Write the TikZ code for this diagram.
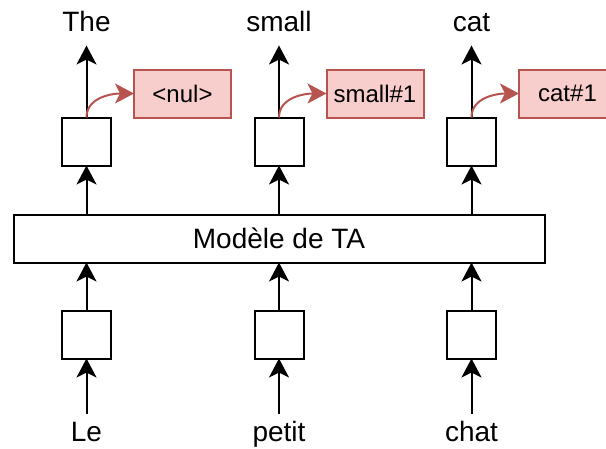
\documentclass[tikz,border=0pt]{standalone}
\usepackage{fontspec}
\setmainfont{Liberation Sans}
\usetikzlibrary{arrows.meta,positioning}
\definecolor{nulred}{HTML}{B85450}
\definecolor{nulfill}{HTML}{F8CECC}
\tikzstyle{cell}=[rectangle,draw=black,minimum width=49pt,minimum height=48pt,inner sep=0pt]
\tikzstyle{model}=[rectangle,draw=black,minimum width=531pt,minimum height=48pt,
font=\fontsize{28}{34}\selectfont]
\tikzstyle{word}=[inner xsep=0pt,inner ysep=8pt,text height=20pt,text depth=6pt,
font=\fontsize{28}{34}\selectfont]
\tikzstyle{hyp}=[rectangle,draw=nulred,fill=nulfill,minimum width=97pt,
minimum height=48pt,inner sep=0pt,font=\fontsize{24}{29}\selectfont]
\begin{document}
\begin{tikzpicture}[x=1pt,y=-1pt,node distance=192.5pt,line width=2pt,
    every node/.style={outer sep=0pt},
    >={Stealth[length=19pt,width=20pt,inset=5pt]}]
            \useasboundingbox (0,0) rectangle (606,448);

            % SOURCE PART

            \node[cell] (e1) at (86.5,334.5) {};
            \node[cell, right of=e1] (e2) {};
            \node[cell, right of=e2] (e3) {};

            \node[word, below=55pt of e1] (le) {Le};
            \node[word, below=55pt of e2] (petit) {petit};
            \node[word, below=55pt of e3] (chat) {chat};

            \node[model, above=48pt of e2] (ta) {Modèle de TA};

            \path[->] (le) edge node {} (e1);
            \path[->] (petit) edge node {} (e2);
            \path[->] (chat) edge node {} (e3);
            \path[->] (e1) edge node {} (ta.south -| e1);
            \path[->] (e2) edge node {} (ta.south -| e2);
            \path[->] (e3) edge node {} (ta.south -| e3);

            % TARGET PART

            \node[cell, above=49pt of ta] (d2) {};
            \node[cell, left of=d2] (d1) {};
            \node[cell, right of=d2] (d3) {};

            \node[word, above=72pt of d1] (the) {The};
            \node[word, above=72pt of d2] (small) {small};
            \node[word, above=72pt of d3] (cat) {cat};

            \node[hyp, above right=0pt and 23pt of d1] (h1) {<nul>};
            \node[hyp, above right=0pt and 23pt of d2] (h2) {small\#1};
            \node[hyp, above right=0pt and 23pt of d3] (h3) {cat\#1};

            \path[->] (ta.north -| d1) edge node {} (d1);
            \path[->] (ta.north -| d2) edge node {} (d2);
            \path[->] (ta.north -| d3) edge node {} (d3);
            \path[->] (d1) edge node {} (the);
            \path[->] (d2) edge node {} (small);
            \path[->] (d3) edge node {} (cat);

            % Links to the hypotheses

            \path[->, nulred] (d1.north) edge[out=90, in=180] node {} (h1.west);
            \path[->, nulred] (d2.north) edge[out=90, in=180] node {} (h2.west);
            \path[->, nulred] (d3.north) edge[out=90, in=180] node {} (h3.west);

        \end{tikzpicture}
\end{document}
